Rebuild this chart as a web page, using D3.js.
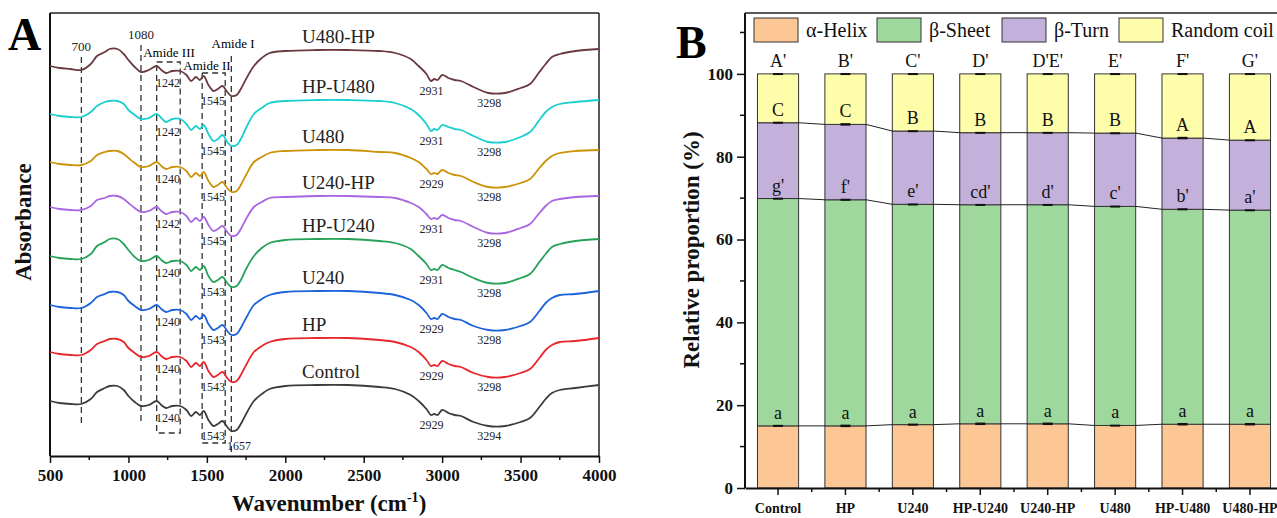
<!DOCTYPE html>
<html>
<head>
<meta charset="utf-8">
<script src="https://cdn.jsdelivr.net/npm/d3@7"></script>
<style>
body { margin: 0; background: #fff; }
svg { display: block; }
text { font-family: "Times New Roman", "Liberation Serif", serif !important; }
</style>
</head>
<body>
<svg id="fig" width="1277" height="518"></svg>
<script>
// ---------- panel A : FTIR spectra (absorbance, arbitrary units, stacked) ----------
var wavenumbers = [500,560,630,700,760,800,850,880,930,970,
  1000,1040,1080,1130,1180,1210,1240,1280,1330,1370,
  1400,1430,1455,1480,1510,1543,1570,1600,1630,1657,
  1690,1720,1750,1800,1850,1900,2000,2200,2400,2600,
  2700,2800,2850,2900,2929,2950,2970,3000,3040,3080,
  3120,3200,3294,3400,3500,3560,3620,3660,3700,3750,
  3850,4000];

var specControl = [55,53,52,52,57,64,68,70,70,66, 60,54,50,51,55,51,48,50,50,46,
  40,44,41,45,36,30,32,35,29,25, 26,33,42,55,62,67,70,71,71,69,
  67,61,55,47,41,42,41,46,43,41, 40,34,30,30,34,38,49,57,63,66, 68,71];
var specHP = [104,102,101,101,106,112,115,117,117,114, 108,103,99,100,104,100,97,99,99,95,
  89,93,90,94,85,79,81,84,78,74, 75,82,91,104,110,114,117,118,118,116,
  114,109,104,96,90,91,90,95,92,90, 89,83,79,79,83,87,98,106,111,114, 115,118];
var specU240 = [151,149,148,148,153,159,162,164,164,161, 155,150,146,147,151,147,144,146,146,142,
  136,140,137,141,132,126,128,131,125,121, 122,129,138,151,157,161,164,165,165,163,
  161,156,151,143,137,138,137,142,139,137, 136,130,126,126,130,134,145,153,158,161, 162,165];
var specHPU240 = [200,198,197,197,202,210,214,217,217,212, 206,199,195,196,200,196,193,195,195,191,
  185,189,186,190,180,174,176,179,173,169, 170,177,187,200,208,213,216,217,217,215,
  213,207,200,192,186,187,186,191,188,186, 184,178,173,173,178,182,194,202,209,212, 215,217];
var specU240HP = [249,247,246,246,250,256,258,260,260,257, 253,248,244,245,249,245,242,244,244,240,
  234,238,235,239,231,225,227,230,224,220, 221,228,237,249,254,258,259,260,260,259,
  258,253,249,242,237,238,237,241,238,236, 235,229,223,223,228,232,243,250,255,257, 259,260];
var specU480 = [294,292,291,291,295,301,304,305,305,302, 298,293,289,290,294,290,287,289,289,285,
  279,283,280,284,275,269,271,274,268,264, 265,272,281,294,299,303,305,306,306,304,
  303,298,294,287,282,283,282,286,283,281, 280,274,269,269,273,277,288,295,300,303, 305,306];
var specHPU480 = [342,340,339,339,344,350,354,355,355,352, 346,341,337,338,342,338,334,337,337,332,
  326,330,327,331,322,315,317,321,314,310, 311,318,328,342,348,353,355,356,356,355,
  353,347,341,332,325,327,326,331,329,327, 326,320,314,314,319,324,336,344,349,352, 354,356];
var specU480HP = [390,388,387,386,392,400,404,407,407,402, 396,389,384,386,390,386,383,385,385,381,
  375,379,376,380,371,365,367,370,364,360, 361,368,377,390,398,403,405,406,406,405,
  403,397,390,382,375,377,376,381,378,376, 375,369,363,363,368,372,384,392,399,402, 405,407];

var sampleNames = ["Control","HP","U240","HP-U240","U240-HP","U480","HP-U480","U480-HP"];
var spectra = [specControl, specHP, specU240, specHPU240, specU240HP, specU480, specHPU480, specU480HP];
var spectraColors = ["#3c3c3c","#e8262c","#1c62d9","#26a257","#a865e2","#cc9308","#19cfd0","#6a3a40"];

// peak labels for each spectrum, same order as sampleNames
var amideIIILabels = ["1240","1240","1240","1240","1242","1240","1242","1242"];
var amideIILabels  = ["1543","1543","1543","1543","1545","1545","1545","1545"];
var chLabels       = ["2929","2929","2929","2931","2931","2929","2931","2931"];
var ohLabels       = ["3294","3298","3298","3298","3298","3298","3298","3298"];

// marked bands
var markLines = [700, 1080];
var markLineLabels = ["700", "1080"];

// ---------- panel B : secondary structure ----------
var categories = ["Control","HP","U240","HP-U240","U240-HP","U480","HP-U480","U480-HP"];
var helix = [15.0, 15.0, 15.3, 15.5, 15.5, 15.1, 15.4, 15.4];
var sheet = [54.9, 54.6, 53.2, 52.9, 52.9, 52.9, 51.9, 51.7];
var turn  = [18.3, 18.2, 17.7, 17.4, 17.4, 17.7, 17.2, 16.9];
var coil  = [11.8, 12.2, 13.8, 14.2, 14.2, 14.3, 15.5, 16.0];
var helixErr = [0.25,0.3,0.25,0.3,0.3,0.2,0.3,0.3];
var sheetErr = [0.2,0.25,0.2,0.2,0.2,0.2,0.25,0.2];
var turnErr  = [0.25,0.3,0.2,0.2,0.2,0.2,0.3,0.2];
var coilErr  = [0.2,0.2,0.2,0.2,0.2,0.2,0.2,0.2];
var helixLetters = ["a","a","a","a","a","a","a","a"];
var sheetLetters = ["g'","f'","e'","cd'","d'","c'","b'","a'"];
var turnLetters  = ["C","C","B","B","B","B","A","A"];
var coilLetters  = ["A'","B'","C'","D'","D'E'","E'","F'","G'"];
var structNames  = ["\u03b1-Helix","\u03b2-Sheet","\u03b2-Turn","Random coil"];
var structColors = ["#fcc695","#9ed89c","#c3b1db","#fdfdaa"];

var svg = d3.select("#fig");

// ================= PANEL A =================
var ax = { left: 50, right: 599, top: 13, bottom: 456 };
var xA = d3.scaleLinear().domain([500, 4000]).range([ax.left, ax.right]);
var yA = d3.scaleLinear().domain([0, 443]).range([ax.bottom, ax.top]);

var gA = svg.append("g");

// frame
gA.append("line").attr("x1", ax.left).attr("x2", ax.right).attr("y1", ax.top).attr("y2", ax.top)
  .attr("stroke", "#222").attr("stroke-width", 1.5);
gA.append("line").attr("x1", ax.right).attr("x2", ax.right).attr("y1", ax.top).attr("y2", ax.bottom)
  .attr("stroke", "#222").attr("stroke-width", 1.5);
gA.append("line").attr("x1", ax.left).attr("x2", ax.left).attr("y1", ax.top).attr("y2", ax.bottom)
  .attr("stroke", "#111").attr("stroke-width", 2);

// dashed marker lines and amide boxes
var dash = "6,4";
markLines.forEach(function (w, i) {
  var top = i == 0 ? 57 : 45;
  gA.append("line").attr("x1", xA(w)).attr("x2", xA(w)).attr("y1", top).attr("y2", 423)
    .attr("stroke", "#333").attr("stroke-width", 1.3).attr("stroke-dasharray", dash);
  gA.append("text").attr("x", xA(w)).attr("y", top - 6).attr("text-anchor", "middle")
    .attr("font-size", 13).attr("fill", "#222").text(markLineLabels[i]);
});
// Amide III box 1180-1330, Amide II box 1470-1617, Amide I line at 1656
gA.append("rect").attr("x", xA(1180)).attr("y", 62).attr("width", xA(1330) - xA(1180)).attr("height", 433 - 62)
  .attr("fill", "none").attr("stroke", "#333").attr("stroke-width", 1.3).attr("stroke-dasharray", dash);
gA.append("rect").attr("x", xA(1470)).attr("y", 73).attr("width", xA(1617) - xA(1470)).attr("height", 443 - 73)
  .attr("fill", "none").attr("stroke", "#333").attr("stroke-width", 1.3).attr("stroke-dasharray", dash);
gA.append("line").attr("x1", xA(1656)).attr("x2", xA(1656)).attr("y1", 56).attr("y2", 452)
  .attr("stroke", "#333").attr("stroke-width", 1.3).attr("stroke-dasharray", dash);
gA.append("text").attr("x", 169).attr("y", 57).attr("text-anchor", "middle").attr("font-size", 13).text("Amide III");
gA.append("text").attr("x", 207).attr("y", 70).attr("text-anchor", "middle").attr("font-size", 13).text("Amide II");
gA.append("text").attr("x", 233).attr("y", 48).attr("text-anchor", "middle").attr("font-size", 13).text("Amide I");

// spectra
var line = d3.line()
  .x(function (d, i) { return xA(wavenumbers[i]); })
  .y(function (d) { return yA(d); })
  .curve(d3.curveCatmullRom.alpha(0.5));

gA.selectAll("path.spec").data(spectra).enter().append("path")
  .attr("class", "spec")
  .attr("d", line)
  .attr("fill", "none")
  .attr("stroke", function (d, i) { return spectraColors[i]; })
  .attr("stroke-width", 1.8);

function valueAt(s, w) {
  return s[wavenumbers.indexOf(w)];
}

// sample names
gA.selectAll("text.sname").data(spectra).enter().append("text")
  .attr("class", "sname")
  .attr("x", 302)
  .attr("y", function (d) { return yA(valueAt(d, 2000)) - 8; })
  .attr("font-size", 19)
  .attr("fill", "#222")
  .text(function (d, i) { return sampleNames[i]; });

// peak labels
function peakLabels(labels, wAt, xw) {
  gA.selectAll(null).data(spectra).enter().append("text")
    .attr("x", xA(xw))
    .attr("y", function (d) { return yA(valueAt(d, wAt)) + 14; })
    .attr("text-anchor", "middle")
    .attr("font-size", 12)
    .attr("fill", "#222")
    .text(function (d, i) { return labels[i]; });
}
peakLabels(amideIIILabels, 1240, 1252);
peakLabels(amideIILabels, 1543, 1539);
peakLabels(chLabels, 2929, 2932);
peakLabels(ohLabels, 3294, 3301);
gA.append("text").attr("x", xA(1705)).attr("y", yA(valueAt(specControl, 1657)) + 19)
  .attr("text-anchor", "middle").attr("font-size", 12).attr("fill", "#222").text("1657");

// x axis
var xAxisA = d3.axisBottom(xA).tickValues(d3.range(500, 4001, 500)).tickFormat(d3.format("d"))
  .tickSize(7).tickSizeOuter(0).tickPadding(6);
var gxA = gA.append("g").attr("transform", "translate(0," + ax.bottom + ")").call(xAxisA);
gxA.select(".domain").attr("stroke", "#111").attr("stroke-width", 2);
gxA.selectAll(".tick line").attr("stroke", "#111").attr("stroke-width", 1.5);
gxA.selectAll("text").attr("font-size", 17).attr("font-weight", "bold").attr("fill", "#111");
gA.selectAll("line.minorA").data(d3.range(750, 4000, 500)).enter().append("line")
  .attr("x1", function (d) { return xA(d); }).attr("x2", function (d) { return xA(d); })
  .attr("y1", ax.bottom).attr("y2", ax.bottom + 4).attr("stroke", "#111").attr("stroke-width", 1.5);

var xt = gA.append("text").attr("x", 329).attr("y", 511).attr("text-anchor", "middle")
  .attr("font-size", 23).attr("font-weight", "bold").attr("fill", "#111");
xt.append("tspan").text("Wavenumber (cm");
xt.append("tspan").attr("dy", -9).attr("font-size", 14).text("-1");
xt.append("tspan").attr("dy", 9).text(")");

gA.append("text").attr("transform", "translate(31,222) rotate(-90)").attr("text-anchor", "middle")
  .attr("font-size", 23).attr("font-weight", "bold").attr("fill", "#111").text("Absorbance");

gA.append("text").attr("x", 8).attr("y", 50).attr("font-size", 46).attr("font-weight", "bold")
  .attr("fill", "#000").text("A");

// ================= PANEL B =================
var bx = { left: 745, right: 1283, top: 13, bottom: 488 };
var xB = d3.scaleBand().domain(categories).range([bx.left, bx.right]).paddingInner(0.39).paddingOuter(0.185);
var yB = d3.scaleLinear().domain([0, 114.7]).range([bx.bottom, bx.top]);

var gB = svg.append("g");

var layerErr = [helixErr, sheetErr, turnErr, coilErr];
var layerLetters = [helixLetters, sheetLetters, turnLetters, coilLetters];

var stackRows = categories.map(function (c, i) {
  return { cat: c, helix: helix[i], sheet: sheet[i], turn: turn[i], coil: coil[i] };
});
var stack = d3.stack().keys(["helix", "sheet", "turn", "coil"])(stackRows);

var bw = xB.bandwidth();

stack.forEach(function (layer, k) {
  gB.selectAll(null).data(layer).enter().append("rect")
    .attr("x", function (d) { return xB(d.data.cat); })
    .attr("y", function (d) { return yB(d[1]); })
    .attr("width", bw)
    .attr("height", function (d) { return yB(d[0]) - yB(d[1]); })
    .attr("fill", structColors[k])
    .attr("stroke", "#333")
    .attr("stroke-width", 1);
});

// connecting lines between segment tops (not on top of random coil)
stack.slice(0, 3).forEach(function (layer) {
  for (var i = 0; i < layer.length - 1; i++) {
    gB.append("line")
      .attr("x1", xB(layer[i].data.cat) + bw).attr("y1", yB(layer[i][1]))
      .attr("x2", xB(layer[i + 1].data.cat)).attr("y2", yB(layer[i + 1][1]))
      .attr("stroke", "#222").attr("stroke-width", 1);
  }
});

// error caps and letters
stack.forEach(function (layer, k) {
  gB.selectAll(null).data(layer).enter().append("rect")
    .attr("x", function (d) { return xB(d.data.cat) + bw / 2 - 5; })
    .attr("y", function (d, i) { return yB(d[1] + layerErr[k][i]); })
    .attr("width", 10)
    .attr("height", function (d, i) { return Math.max(2, yB(d[1] - layerErr[k][i]) - yB(d[1] + layerErr[k][i])); })
    .attr("fill", "#111");
  gB.selectAll(null).data(layer).enter().append("text")
    .attr("x", function (d) { return xB(d.data.cat) + bw / 2; })
    .attr("y", function (d) { return yB(d[1]) - 7; })
    .attr("text-anchor", "middle")
    .attr("font-size", 18)
    .attr("fill", "#111")
    .text(function (d, i) { return layerLetters[k][i]; });
});

// axes
var yAxisB = d3.axisLeft(yB).tickValues([0, 20, 40, 60, 80, 100]).tickSize(8).tickSizeOuter(0).tickPadding(4);
var gyB = gB.append("g").attr("transform", "translate(" + bx.left + ",0)").call(yAxisB);
gyB.select(".domain").remove();
gyB.selectAll(".tick line").attr("stroke", "#111").attr("stroke-width", 1.5);
gyB.selectAll("text").attr("font-size", 17).attr("font-weight", "bold").attr("fill", "#111");
gB.selectAll("line.minorBy").data([10, 30, 50, 70, 90, 110]).enter().append("line")
  .attr("x1", bx.left - 5).attr("x2", bx.left)
  .attr("y1", function (d) { return yB(d); }).attr("y2", function (d) { return yB(d); })
  .attr("stroke", "#111").attr("stroke-width", 1.5);
gB.append("line").attr("x1", bx.left).attr("x2", bx.left).attr("y1", bx.top).attr("y2", bx.bottom)
  .attr("stroke", "#111").attr("stroke-width", 2);
gB.append("line").attr("x1", bx.left).attr("x2", bx.right).attr("y1", bx.top).attr("y2", bx.top)
  .attr("stroke", "#222").attr("stroke-width", 1.5);

var xAxisB = d3.axisBottom(xB).tickSize(7).tickSizeOuter(0).tickPadding(8);
var gxB = gB.append("g").attr("transform", "translate(0," + bx.bottom + ")").call(xAxisB);
gxB.select(".domain").attr("stroke", "#111").attr("stroke-width", 2);
gxB.selectAll(".tick line").attr("stroke", "#111").attr("stroke-width", 1.5);
gxB.selectAll("text").attr("font-size", 14).attr("font-weight", "bold").attr("fill", "#111");
gB.selectAll("line.minorBx").data(categories.slice(0, -1)).enter().append("line")
  .attr("x1", function (d) { return xB(d) + bw / 2 + xB.step() / 2; })
  .attr("x2", function (d) { return xB(d) + bw / 2 + xB.step() / 2; })
  .attr("y1", bx.bottom).attr("y2", bx.bottom + 4)
  .attr("stroke", "#111").attr("stroke-width", 1.5);

gB.append("text").attr("transform", "translate(699,250) rotate(-90)").attr("text-anchor", "middle")
  .attr("font-size", 23).attr("font-weight", "bold").attr("fill", "#111").text("Relative proportion (%)");

gB.append("text").attr("x", 676).attr("y", 58).attr("font-size", 46).attr("font-weight", "bold")
  .attr("fill", "#000").text("B");

// legend
var legendX = [754, 877, 1002, 1119];
var lg = gB.selectAll("g.leg").data(structNames).enter().append("g")
  .attr("transform", function (d, i) { return "translate(" + legendX[i] + ",18)"; });
lg.append("rect").attr("width", 44).attr("height", 24)
  .attr("fill", function (d, i) { return structColors[i]; })
  .attr("stroke", "#333").attr("stroke-width", 1);
lg.append("text").attr("x", 52).attr("y", 19).attr("font-size", 20).attr("fill", "#111")
  .text(function (d) { return d; });
</script>
</body>
</html>
